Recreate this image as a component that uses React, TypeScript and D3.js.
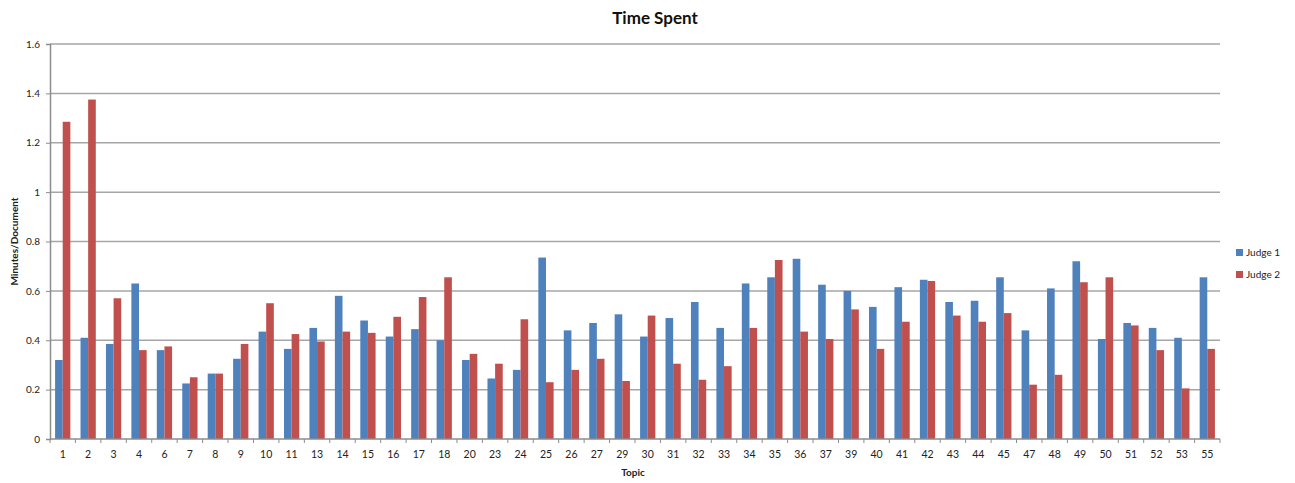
import React, { useEffect, useRef } from 'react';
import * as d3 from 'd3';

const topics = ['1', '2', '3', '4', '6', '7', '8', '9', '10', '11', '13', '14', '15', '16', '17', '18', '20', '23', '24', '25', '26', '27', '29', '30', '31', '32', '33', '34', '35', '36', '37', '39', '40', '41', '42', '43', '44', '45', '47', '48', '49', '50', '51', '52', '53', '55'];

const judge1 = [0.32, 0.41, 0.385, 0.63, 0.36, 0.225, 0.265, 0.325, 0.435, 0.365, 0.45, 0.58, 0.48, 0.415, 0.445, 0.40, 0.32, 0.245, 0.28, 0.735, 0.44, 0.47, 0.505, 0.415, 0.49, 0.555, 0.45, 0.63, 0.655, 0.73, 0.625, 0.60, 0.535, 0.615, 0.645, 0.555, 0.56, 0.655, 0.44, 0.61, 0.72, 0.405, 0.47, 0.45, 0.41, 0.655];

const judge2 = [1.285, 1.375, 0.57, 0.36, 0.375, 0.25, 0.265, 0.385, 0.55, 0.425, 0.395, 0.435, 0.43, 0.495, 0.575, 0.655, 0.345, 0.305, 0.485, 0.23, 0.28, 0.325, 0.235, 0.50, 0.305, 0.24, 0.295, 0.45, 0.725, 0.435, 0.405, 0.525, 0.365, 0.475, 0.64, 0.50, 0.475, 0.51, 0.22, 0.26, 0.635, 0.655, 0.46, 0.36, 0.205, 0.365];

const seriesNames = ['Judge 1', 'Judge 2'];
const colors = ['#4F81BD', '#C0504D'];
const yTicks = [0, 0.2, 0.4, 0.6, 0.8, 1, 1.2, 1.4, 1.6];

const W = 1295;
const H = 483;
const margin = { top: 44, right: 75, bottom: 44, left: 50 };
const FONT = 'Lato, "Open Sans", sans-serif';

function App() {
  const svgRef = useRef(null);

  useEffect(() => {
    const svg = d3.select(svgRef.current);
    svg.selectAll('*').remove();

    // Excel-style clusters: gap between clusters, bars touching inside
    const x0 = d3.scaleBand().domain(topics).range([margin.left, W - margin.right]).paddingInner(0.4).paddingOuter(0.2);
    const x1 = d3.scaleBand().domain(seriesNames).range([0, x0.bandwidth()]);
    const y = d3.scaleLinear().domain([0, 1.6]).range([H - margin.bottom, margin.top]);

    // gridlines
    svg.append('g')
      .selectAll('line')
      .data(yTicks.slice(1))
      .join('line')
      .attr('x1', margin.left)
      .attr('x2', W - margin.right)
      .attr('y1', (d) => y(d))
      .attr('y2', (d) => y(d))
      .attr('stroke', '#a6a6a6')
      .attr('stroke-width', 1.5);

    // bars
    const data = topics.map((t, i) => ({ t, vals: [judge1[i], judge2[i]] }));
    svg.append('g')
      .selectAll('g')
      .data(data)
      .join('g')
      .attr('transform', (d) => `translate(${x0(d.t)},0)`)
      .selectAll('rect')
      .data((d) => d.vals.map((v, k) => ({ v, k })))
      .join('rect')
      .attr('x', (d) => x1(seriesNames[d.k]))
      .attr('y', (d) => y(d.v))
      .attr('width', x1.bandwidth())
      .attr('height', (d) => y(0) - y(d.v))
      .attr('fill', (d) => colors[d.k]);

    // y axis
    const yAxis = svg.append('g')
      .attr('transform', `translate(${margin.left},0)`)
      .call(d3.axisLeft(y).tickValues(yTicks).tickFormat(d3.format('~g')).tickSize(4).tickPadding(6));
    yAxis.select('.domain').attr('stroke', '#8c8c8c').attr('stroke-width', 1.5);
    yAxis.selectAll('.tick line').attr('stroke', '#8c8c8c');
    yAxis.selectAll('text').attr('font-family', FONT).attr('font-size', 10).attr('fill', '#222');

    // x axis with tick marks at category boundaries
    const base = y(0);
    svg.append('line')
      .attr('x1', margin.left).attr('x2', W - margin.right)
      .attr('y1', base).attr('y2', base)
      .attr('stroke', '#8c8c8c').attr('stroke-width', 1.5);
    const bounds = d3.range(topics.length + 1).map((i) => margin.left + i * ((W - margin.right - margin.left) / topics.length));
    svg.append('g')
      .selectAll('line')
      .data(bounds)
      .join('line')
      .attr('x1', (d) => d).attr('x2', (d) => d)
      .attr('y1', base).attr('y2', base + 4)
      .attr('stroke', '#8c8c8c');
    svg.append('g')
      .selectAll('text')
      .data(topics)
      .join('text')
      .attr('x', (d) => x0(d) + x0.bandwidth() / 2)
      .attr('y', base + 19)
      .attr('text-anchor', 'middle')
      .attr('font-family', FONT)
      .attr('font-size', 10.5)
      .attr('fill', '#222')
      .text((d) => d);

    // titles
    svg.append('text')
      .attr('x', 655).attr('y', 24)
      .attr('text-anchor', 'middle')
      .attr('font-family', FONT).attr('font-weight', 'bold').attr('font-size', 17)
      .attr('fill', '#111')
      .text('Time Spent');
    svg.append('text')
      .attr('x', 633).attr('y', 476)
      .attr('text-anchor', 'middle')
      .attr('font-family', FONT).attr('font-weight', 'bold').attr('font-size', 10)
      .attr('fill', '#222')
      .text('Topic');
    svg.append('text')
      .attr('transform', `translate(18,${(margin.top + base) / 2}) rotate(-90)`)
      .attr('text-anchor', 'middle')
      .attr('font-family', FONT).attr('font-weight', 'bold').attr('font-size', 10)
      .attr('fill', '#222')
      .text('Minutes/Document');

    // legend
    const legend = svg.append('g').attr('transform', 'translate(1236,253)');
    seriesNames.forEach((name, i) => {
      legend.append('rect')
        .attr('x', 0).attr('y', i * 22 - 4)
        .attr('width', 7).attr('height', 7)
        .attr('fill', colors[i]);
      legend.append('text')
        .attr('x', 10).attr('y', i * 22 + 3)
        .attr('font-family', FONT).attr('font-size', 10)
        .attr('fill', '#222')
        .text(name);
    });
  }, []);

  return (
    <svg ref={svgRef} width={W} height={H} style={{ display: 'block', position: 'absolute', left: 0, top: 0 }} />
  );
}

export default App;
